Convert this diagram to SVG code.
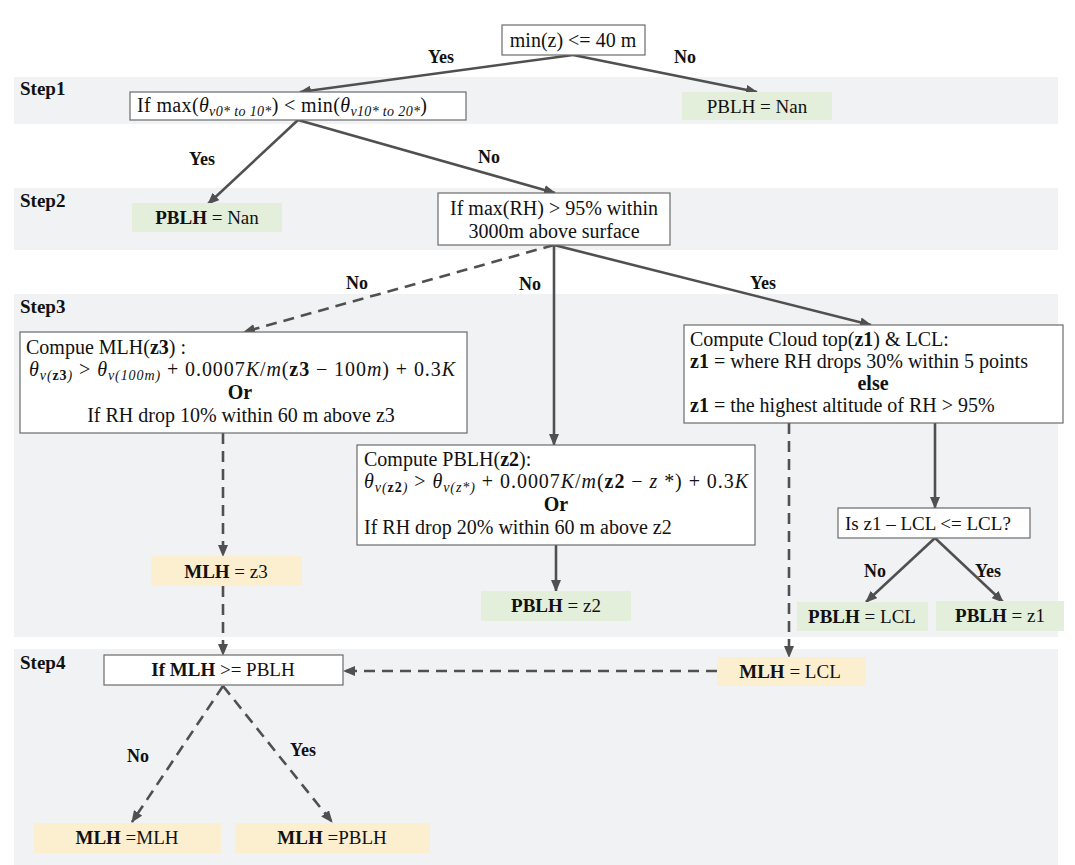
<svg xmlns="http://www.w3.org/2000/svg" width="1075" height="865" viewBox="0 0 1075 865">
<defs>
<style>
.band{fill:#f1f2f4}
.box{fill:#ffffff;stroke:#6b6b6b;stroke-width:1.2}
.green{fill:#e3efdb}
.yellow{fill:#fcefd0}
text{font-family:"Liberation Serif","Times New Roman",serif;font-size:20px;fill:#111}
.r{font-size:19px}
.step{font-weight:bold;font-size:19px}
.lbl{font-weight:bold;font-size:18px}
.b{font-weight:bold}
.i{font-style:italic}
.sub{font-size:14px;font-style:italic}
.c{text-anchor:middle}
.ln{fill:none;stroke:#505050;stroke-width:2.6}
.dash{stroke-dasharray:11 7}
</style>
<marker id="ah" markerUnits="userSpaceOnUse" markerWidth="12" markerHeight="10" refX="11" refY="5" orient="auto">
<path d="M0,0 L12,5 L0,10 z" fill="#505050"/>
</marker>
</defs>
<rect width="1075" height="865" fill="#ffffff"/>
<g id="bands">
<rect class="band" x="14" y="77" width="1044" height="47"/>
<rect class="band" x="14" y="188" width="1044" height="62"/>
<rect class="band" x="14" y="294" width="1044" height="343"/>
<rect class="band" x="14" y="649" width="1044" height="216"/>
<text class="step" x="20" y="95">Step1</text>
<text class="step" x="20" y="207">Step2</text>
<text class="step" x="20" y="313">Step3</text>
<text class="step" x="20" y="669">Step4</text>
</g>
<g id="connectors">
<path class="ln" d="M573,55 L300,92" marker-end="url(#ah)"/>
<path class="ln" d="M573,55 L757,92" marker-end="url(#ah)"/>
<path class="ln" d="M298,120 L208,204" marker-end="url(#ah)"/>
<path class="ln" d="M298,120 L555,193" marker-end="url(#ah)"/>
<path class="ln dash" d="M554,245 L244,332" marker-end="url(#ah)"/>
<path class="ln" d="M554,245 L554,445" marker-end="url(#ah)"/>
<path class="ln" d="M554,245 L871,325" marker-end="url(#ah)"/>
<path class="ln dash" d="M223,433 L223,556" marker-end="url(#ah)"/>
<path class="ln" d="M556,545 L556,591" marker-end="url(#ah)"/>
<path class="ln" d="M935,423 L935,508" marker-end="url(#ah)"/>
<path class="ln" d="M935,538 L866,602" marker-end="url(#ah)"/>
<path class="ln" d="M935,538 L1003,602" marker-end="url(#ah)"/>
<path class="ln dash" d="M789,423 L789,657" marker-end="url(#ah)"/>
<path class="ln dash" d="M223,586 L223,655" marker-end="url(#ah)"/>
<path class="ln dash" d="M717,671 L344,671" marker-end="url(#ah)"/>
<path class="ln dash" d="M223,686 L132,822" marker-end="url(#ah)"/>
<path class="ln dash" d="M223,686 L332,822" marker-end="url(#ah)"/>
<text class="lbl c" x="441" y="63">Yes</text>
<text class="lbl c" x="685" y="63">No</text>
<text class="lbl c" x="202" y="165">Yes</text>
<text class="lbl c" x="489" y="163">No</text>
<text class="lbl c" x="357" y="289">No</text>
<text class="lbl c" x="530" y="290">No</text>
<text class="lbl c" x="763" y="289">Yes</text>
<text class="lbl c" x="875" y="577">No</text>
<text class="lbl c" x="988" y="577">Yes</text>
<text class="lbl c" x="138" y="762">No</text>
<text class="lbl c" x="303" y="756">Yes</text>
</g>
<g id="n-start">
<rect class="box" x="502" y="25" width="143" height="30"/>
<text class="c" x="573" y="47">min(z) &lt;= 40 m</text>
</g>
<g id="n-step1">
<rect class="box" x="130" y="92" width="336" height="28"/>
<text x="137" y="112" textLength="290">If max(<tspan class="i">θ</tspan><tspan class="sub" dy="4">v0* to 10*</tspan><tspan dy="-4">) &lt; min(</tspan><tspan class="i">θ</tspan><tspan class="sub" dy="4">v10* to 20*</tspan><tspan dy="-4">)</tspan></text>
</g>
<g id="n-nan1">
<rect class="green" x="682" y="92" width="150" height="28"/>
<text class="c r" x="757" y="113">PBLH = Nan</text>
</g>
<g id="n-nan2">
<rect class="green" x="132" y="203" width="150" height="29"/>
<text class="c r" x="207" y="224"><tspan class="b">PBLH</tspan> = Nan</text>
</g>
<g id="n-rh">
<rect class="box" x="438" y="193" width="232" height="52"/>
<text class="c" x="554" y="215">If max(RH) &gt; 95% within</text>
<text class="c" x="554" y="238">3000m above surface</text>
</g>
<g id="n-mlh">
<rect class="box" x="20" y="332" width="447" height="101"/>
<text x="26" y="354">Compue MLH(<tspan class="b">z3</tspan>) :</text>
<text x="29" y="376" textLength="426"><tspan class="i">θ</tspan><tspan class="sub" dy="4">v(<tspan font-weight="bold" font-style="normal">z3</tspan>)</tspan><tspan dy="-4"> &gt;  </tspan><tspan class="i">θ</tspan><tspan class="sub" dy="4">v(100m)</tspan><tspan dy="-4"> + 0.0007</tspan><tspan class="i">K</tspan>/<tspan class="i">m</tspan>(<tspan class="b">z3</tspan> − 100<tspan class="i">m</tspan>)  + 0.3<tspan class="i">K</tspan></text>
<text class="c b" x="240" y="399">Or</text>
<text class="c" x="241" y="422">If RH  drop 10% within 60 m above z3</text>
</g>
<g id="n-cloud">
<rect class="box" x="684" y="325" width="379" height="98"/>
<text x="690" y="346">Compute Cloud top(<tspan class="b">z1</tspan>) &amp; LCL:</text>
<text x="690" y="368"><tspan class="b">z1</tspan> = where RH drops 30% within 5 points</text>
<text class="c b" x="873" y="390">else</text>
<text x="690" y="412"><tspan class="b">z1</tspan> = the highest altitude of RH &gt; 95%</text>
</g>
<g id="n-pblh">
<rect class="box" x="357" y="445" width="398" height="100"/>
<text x="364" y="466">Compute PBLH(<tspan class="b">z2</tspan>):</text>
<text x="364" y="488" textLength="384"><tspan class="i">θ</tspan><tspan class="sub" dy="4">v(<tspan font-weight="bold" font-style="normal">z2</tspan>)</tspan><tspan dy="-4"> &gt;  </tspan><tspan class="i">θ</tspan><tspan class="sub" dy="4">v(z*)</tspan><tspan dy="-4"> + 0.0007</tspan><tspan class="i">K</tspan>/<tspan class="i">m</tspan>(<tspan class="b">z2</tspan> − <tspan class="i">z</tspan> *)  + 0.3<tspan class="i">K</tspan></text>
<text class="c b" x="556" y="511">Or</text>
<text x="364" y="534">If RH drop 20% within 60 m above z2</text>
</g>
<g id="n-mlhz3">
<rect class="yellow" x="151" y="556" width="151" height="30"/>
<text class="c r" x="226" y="578"><tspan class="b">MLH</tspan> = z3</text>
</g>
<g id="n-pblhz2">
<rect class="green" x="481" y="591" width="150" height="30"/>
<text class="c r" x="556" y="612"><tspan class="b">PBLH</tspan> = z2</text>
</g>
<g id="n-is">
<rect class="box" x="838" y="508" width="192" height="30"/>
<text class="r" x="845" y="530">Is z1 – LCL &lt;= LCL?</text>
</g>
<g id="n-pblhlcl">
<rect class="green" x="797" y="602" width="131" height="29"/>
<text class="c r" x="862" y="623"><tspan class="b">PBLH</tspan> = LCL</text>
</g>
<g id="n-pblhz1">
<rect class="green" x="936" y="601" width="128" height="30"/>
<text class="c r" x="1000" y="622"><tspan class="b">PBLH</tspan> = z1</text>
</g>
<g id="n-mlhlcl">
<rect class="yellow" x="717" y="657" width="149" height="29"/>
<text class="c r" x="790" y="678"><tspan class="b">MLH</tspan> = LCL</text>
</g>
<g id="n-if">
<rect class="box" x="104" y="655" width="239" height="30"/>
<text class="c r" x="223" y="676"><tspan class="b">If MLH</tspan> &gt;= PBLH</text>
</g>
<g id="n-mlhmlh">
<rect class="yellow" x="34" y="823" width="187" height="30"/>
<text class="c r" x="127" y="844"><tspan class="b">MLH</tspan> =MLH</text>
</g>
<g id="n-mlhpblh">
<rect class="yellow" x="235" y="823" width="195" height="30"/>
<text class="c r" x="332" y="844"><tspan class="b">MLH</tspan> =PBLH</text>
</g>
</svg>
